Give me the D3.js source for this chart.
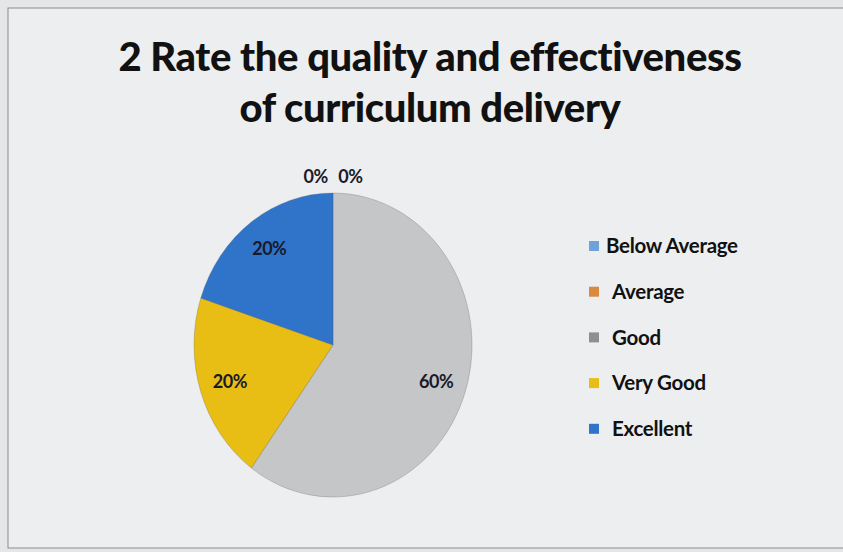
<!DOCTYPE html>
<html>
<head>
<meta charset="utf-8">
<script src="https://cdn.jsdelivr.net/npm/d3@7"></script>
<style>
  body { margin: 0; background: #e4e6e8; }
  svg { display: block; }
</style>
</head>
<body>
<svg id="chart" width="843" height="552"></svg>
<script>
var titleLines = ["2 Rate the quality and effectiveness", "of curriculum delivery"];
var categories = ["Below Average", "Average", "Good", "Very Good", "Excellent"];
var values = [0, 0, 60, 20, 20];
var colors = ["#6fa2d9", "#d98a40", "#c5c6c8", "#e8bd14", "#2f74c8"];
var legendColors = ["#6fa2d9", "#d98a40", "#8e8f91", "#e8bd14", "#2f74c8"];

var svg = d3.select("#chart");
var font = "Lato, 'Open Sans', sans-serif";

// page / slide
svg.append("rect").attr("width", 843).attr("height", 552).attr("fill", "#e4e6e8");
svg.append("rect").attr("x", 8).attr("y", 8).attr("width", 850).attr("height", 540)
  .attr("fill", "#eceef0").attr("stroke", "#8a8c8e").attr("stroke-width", 1);

// title
svg.selectAll(".title").data(titleLines).enter().append("text")
  .attr("class", "title")
  .attr("x", 430)
  .attr("y", function(d, i) { return 71 + i * 51; })
  .attr("text-anchor", "middle")
  .style("font-family", font)
  .style("font-weight", "900")
  .style("font-size", "40px")
  .style("letter-spacing", "-0.4px")
  .attr("fill", "#111")
  .text(function(d) { return d; });

// pie
var cx = 333, cy = 345, r = 152, sx = 139 / 152;
var pie = d3.pie().sort(null).value(function(d) { return d; });
var arcs = pie(values);
var arc = d3.arc().innerRadius(0).outerRadius(r);
var labelArc = d3.arc().innerRadius(r * 0.78).outerRadius(r * 0.78);
var outerArc = d3.arc().innerRadius(r * 1.11).outerRadius(r * 1.11);

var g = svg.append("g").attr("transform", "translate(" + cx + "," + cy + ")");
var pg = g.append("g").attr("transform", "scale(" + sx + ",1)");

pg.selectAll("path").data(arcs).enter().append("path")
  .attr("d", arc)
  .attr("fill", function(d, i) { return colors[i]; })
  .attr("stroke", "#555")
  .attr("stroke-opacity", 0.35)
  .attr("stroke-width", 0.8);

g.selectAll(".lbl").data(arcs).enter().append("text")
  .attr("class", "lbl")
  .attr("transform", function(d, i) {
    var p;
    if (d.value === 0) {
      p = outerArc.centroid(d);
      p[0] += (i === 0 ? -19 : 19);
    } else {
      p = labelArc.centroid(d);
    }
    return "translate(" + (p[0] * sx) + "," + p[1] + ")";
  })
  .attr("text-anchor", "middle")
  .attr("dy", "0.35em")
  .style("font-family", font)
  .style("font-weight", "bold")
  .style("font-size", "18px")
  .style("letter-spacing", "-0.5px")
  .attr("fill", "#1a1a2a")
  .text(function(d) { return d.value + "%"; });

// legend
var legend = svg.append("g").attr("transform", "translate(589,246)");
var items = legend.selectAll("g").data(categories).enter().append("g")
  .attr("transform", function(d, i) { return "translate(0," + (i * 45.7) + ")"; });
items.append("rect").attr("x", 0).attr("y", -5).attr("width", 10).attr("height", 10)
  .attr("fill", function(d, i) { return legendColors[i]; });
items.append("text")
  .attr("x", function(d, i) { return i === 0 ? 17 : 23; })
  .attr("dy", "0.35em")
  .style("font-family", font)
  .style("font-weight", "bold")
  .style("font-size", "20.5px")
  .style("letter-spacing", "-0.3px")
  .attr("fill", "#111")
  .text(function(d) { return d; });
</script>
</body>
</html>
